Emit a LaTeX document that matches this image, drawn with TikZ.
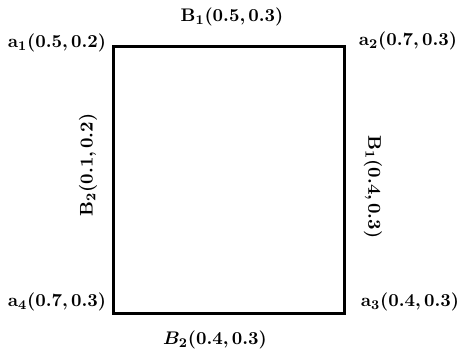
\documentclass[tikz,border=0pt]{standalone}
\usepackage{amsmath}
\usepackage{bm}
\usepackage{tikz}
\usetikzlibrary{positioning, calc}

\begin{document}
\begin{tikzpicture}[x=0.6pt, y=-0.6pt,
    lbl/.style={inner sep=0pt, font=\fontsize{10.8}{13}\selectfont},
    edge/.style={draw=black, line width=1.8pt},
]
\useasboundingbox (0,0) rectangle (458,354);
% corners of the square
\coordinate (c1) at (114,46);
\coordinate (c2) at (345,46);
\coordinate (c3) at (345,313);
\coordinate (c4) at (114,313);
\draw[edge] (c1) -- (c2) -- (c3) -- (c4) -- cycle;

% corner labels
\node[lbl] (a1) at (57,43) {$\bm{\mathrm{a}_1(0.5,0.2)}$};
\node[lbl] (a2) at (408,41) {$\bm{\mathrm{a}_2(0.7,0.3)}$};
\node[lbl] (a3) at (410,302) {$\bm{\mathrm{a}_3(0.4,0.3)}$};
\node[lbl] (a4) at (57,302) {$\bm{\mathrm{a}_4(0.7,0.3)}$};

% side labels
\node[lbl] (b1top) at (232,17) {$\bm{\mathrm{B}_1(0.5,0.3)}$};
\node[lbl, rotate=-90] (b1right) at (373,187) {$\bm{\mathrm{B}_1(0.4,0.3)}$};
\node[lbl] (b2bottom) at (215,340) {$\bm{B_2(0.4,0.3)}$};
\node[lbl, rotate=90] (b2left) at (88,165) {$\bm{\mathrm{B}_2(0.1,0.2)}$};
\end{tikzpicture}
\end{document}
